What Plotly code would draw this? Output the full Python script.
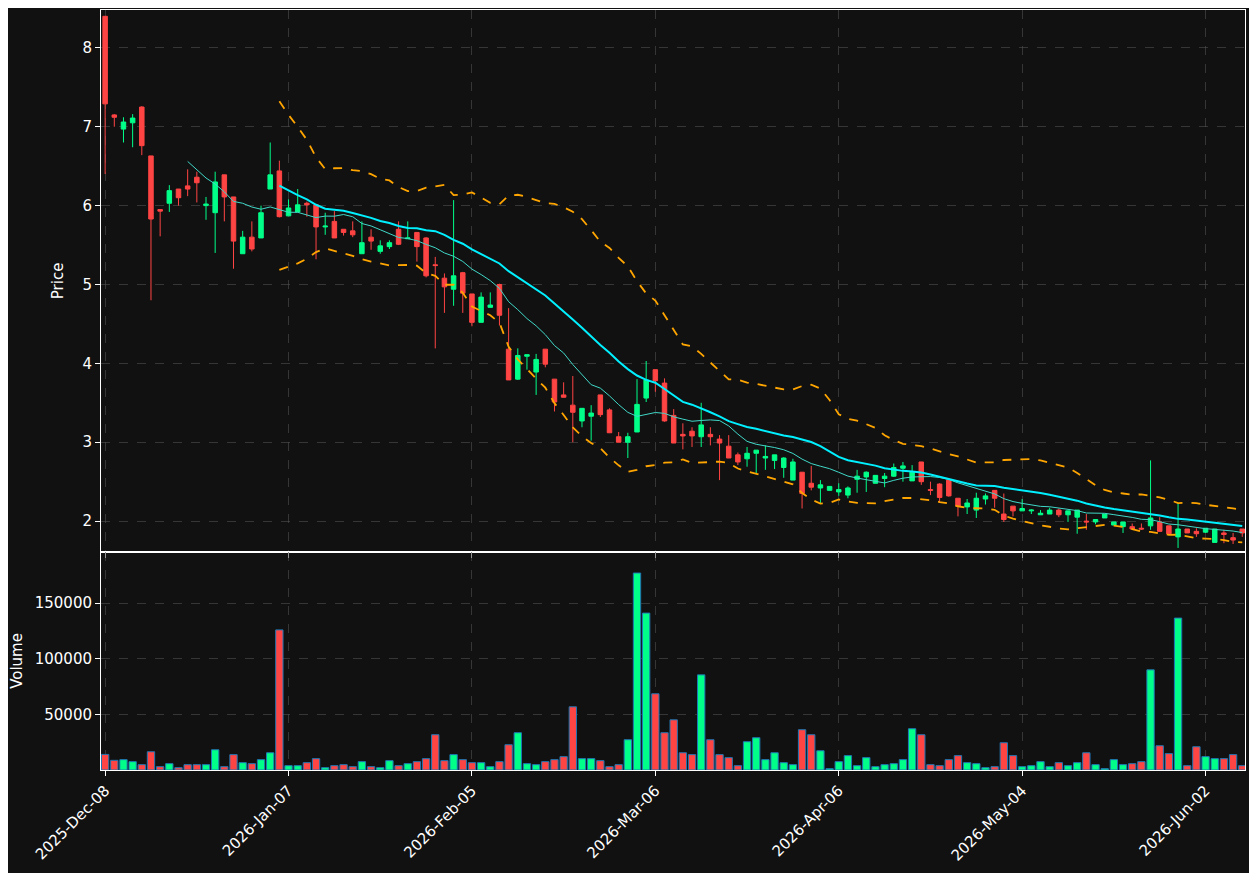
import pandas as pd
import plotly.graph_objects as go
from plotly.subplots import make_subplots

holidays = ["2025-12-25", "2026-01-01", "2026-01-19", "2026-02-16", "2026-04-03", "2026-05-25"]
dates = pd.bdate_range("2025-12-08", "2026-06-08", freq="C", holidays=holidays)

opens = [8.40, 7.15, 6.97, 7.05, 7.25, 6.63, 5.95, 6.03, 6.21, 6.25,
         6.36, 6.00, 5.91, 6.39, 6.11, 5.39, 5.60, 5.59, 6.21, 6.44,
         5.87, 5.92, 6.03, 6.01, 5.73, 5.80, 5.70, 5.68, 5.39, 5.60,
         5.42, 5.48, 5.70, 5.58, 5.66, 5.59, 5.25, 5.08, 4.94, 5.15,
         4.88, 4.52, 4.71, 5.00, 4.18, 3.80, 4.09, 3.89, 4.18, 3.80,
         3.60, 3.47, 3.27, 3.33, 3.60, 3.41, 3.07, 3.00, 3.13, 3.56,
         3.92, 3.75, 3.34, 3.10, 3.14, 3.07, 3.10, 3.04, 2.95, 2.84,
         2.79, 2.86, 2.80, 2.77, 2.68, 2.52, 2.62, 2.48, 2.42, 2.39,
         2.37, 2.33, 2.53, 2.56, 2.48, 2.54, 2.57, 2.67, 2.51, 2.75,
         2.40, 2.47, 2.52, 2.29, 2.18, 2.14, 2.28, 2.39, 2.09, 2.19,
         2.13, 2.13, 2.08, 2.09, 2.14, 2.08, 2.05, 2.00, 1.99, 2.04,
         1.95, 1.93, 1.93, 1.91, 1.94, 1.99, 1.94, 1.80, 1.90, 1.87,
         1.86, 1.73, 1.85, 1.79, 1.90]
highs = [8.40, 7.16, 7.12, 7.16, 7.26, 6.63, 5.95, 6.26, 6.21, 6.46,
         6.43, 6.11, 6.43, 6.39, 6.11, 5.68, 5.80, 6.00, 6.80, 6.57,
         6.08, 6.21, 6.05, 6.01, 5.91, 5.93, 5.70, 5.80, 5.80, 5.70,
         5.56, 5.56, 5.80, 5.80, 5.66, 5.60, 5.35, 5.14, 6.07, 5.16,
         4.88, 4.90, 4.90, 5.01, 4.70, 4.19, 4.11, 4.12, 4.18, 3.80,
         3.76, 3.84, 3.43, 3.47, 3.60, 3.43, 3.13, 3.12, 3.80, 4.03,
         3.92, 3.81, 3.42, 3.24, 3.19, 3.50, 3.19, 3.09, 3.09, 2.87,
         2.94, 2.90, 2.96, 2.84, 2.81, 2.79, 2.62, 2.70, 2.52, 2.44,
         2.48, 2.44, 2.65, 2.63, 2.58, 2.61, 2.73, 2.75, 2.71, 2.75,
         2.50, 2.48, 2.53, 2.29, 2.28, 2.36, 2.35, 2.39, 2.35, 2.19,
         2.28, 2.15, 2.14, 2.17, 2.16, 2.13, 2.14, 2.09, 2.02, 2.09,
         1.99, 1.99, 1.97, 1.97, 2.77, 2.05, 1.94, 2.23, 1.90, 1.91,
         1.91, 1.90, 1.89, 1.85, 1.90]
lows = [6.40, 7.00, 6.80, 6.74, 6.64, 4.80, 5.61, 5.92, 6.00, 6.12,
        6.04, 5.82, 5.40, 5.80, 5.20, 5.39, 5.42, 5.59, 6.21, 5.85,
        5.87, 5.92, 5.86, 5.32, 5.63, 5.59, 5.62, 5.60, 5.39, 5.44,
        5.39, 5.45, 5.50, 5.58, 5.29, 5.09, 4.19, 4.64, 4.73, 4.64,
        4.47, 4.52, 4.71, 4.48, 3.79, 3.79, 3.92, 3.60, 3.95, 3.39,
        3.57, 3.00, 3.19, 3.02, 3.32, 3.12, 3.00, 2.80, 3.13, 3.51,
        3.64, 3.26, 2.99, 2.91, 2.94, 2.94, 2.96, 2.52, 2.80, 2.71,
        2.69, 2.61, 2.65, 2.66, 2.55, 2.52, 2.16, 2.39, 2.23, 2.39,
        2.32, 2.29, 2.36, 2.37, 2.48, 2.43, 2.56, 2.50, 2.51, 2.46,
        2.33, 2.24, 2.31, 2.06, 2.09, 2.04, 2.21, 2.17, 1.99, 2.06,
        2.13, 2.09, 2.08, 2.09, 2.05, 1.99, 1.84, 1.89, 1.96, 2.04,
        1.95, 1.85, 1.90, 1.89, 1.89, 1.87, 1.84, 1.66, 1.85, 1.80,
        1.85, 1.73, 1.72, 1.71, 1.80]
closes = [7.29, 7.12, 7.06, 7.11, 6.76, 5.83, 5.93, 6.19, 6.10, 6.21,
          6.29, 6.02, 6.30, 6.11, 5.55, 5.60, 5.45, 5.91, 6.39, 5.86,
          5.97, 6.01, 6.01, 5.73, 5.74, 5.59, 5.66, 5.63, 5.53, 5.55,
          5.49, 5.53, 5.51, 5.59, 5.48, 5.11, 5.24, 4.97, 5.11, 4.89,
          4.52, 4.84, 4.74, 4.61, 3.79, 4.10, 4.11, 4.05, 3.99, 3.51,
          3.57, 3.38, 3.43, 3.37, 3.35, 3.12, 3.00, 3.07, 3.48, 3.79,
          3.78, 3.27, 2.99, 3.08, 3.08, 3.22, 3.07, 2.99, 2.80, 2.75,
          2.86, 2.90, 2.82, 2.84, 2.80, 2.75, 2.35, 2.43, 2.46, 2.44,
          2.40, 2.42, 2.57, 2.62, 2.58, 2.57, 2.68, 2.70, 2.62, 2.50,
          2.39, 2.30, 2.32, 2.19, 2.23, 2.29, 2.32, 2.29, 2.02, 2.13,
          2.16, 2.14, 2.10, 2.14, 2.08, 2.13, 2.14, 1.99, 2.02, 2.09,
          1.99, 1.99, 1.90, 1.90, 2.04, 1.87, 1.84, 1.90, 1.85, 1.84,
          1.91, 1.90, 1.83, 1.76, 1.85]
volumes = [14000, 8700, 9300, 7500, 4800, 16400, 3000, 5700, 2100, 4800,
           4800, 4800, 18200, 3000, 13800, 6600, 5700, 9300, 15500, 125900,
           3900, 3900, 6600, 10200, 2100, 3900, 4800, 3000, 7500, 3000,
           2100, 8400, 3900, 5700, 7500, 10200, 31700, 8400, 13800, 9300,
           6600, 6600, 3000, 7500, 22700, 33500, 5700, 4800, 7500, 9300,
           12000, 56800, 10200, 10200, 8400, 3000, 4800, 27200, 177000, 141000,
           68500, 33500, 45100, 15500, 13800, 85500, 27200, 13800, 11100, 3900,
           25400, 29000, 9300, 15500, 6600, 4800, 36200, 31700, 17300, 1200,
           7500, 12900, 3900, 11100, 3000, 4800, 5700, 9300, 37100, 31700,
           4800, 3900, 9300, 12900, 6600, 5700, 2100, 3000, 24500, 12900,
           3000, 3900, 7500, 3000, 6600, 3900, 6600, 15500, 4800, 1200,
           9300, 4800, 5700, 7500, 90000, 21800, 14700, 136500, 3900, 20900,
           12000, 10200, 10200, 13800, 3900]

UP = "#00ff88"
DOWN = "#ff4444"
BG = "#111111"

x = list(range(len(dates)))
close_s = pd.Series(closes)
ma10 = close_s.rolling(10).mean()
ma20 = close_s.rolling(20).mean()
std20 = close_s.rolling(20).std(ddof=0)
bb_up = ma20 + 2 * std20
bb_dn = ma20 - 2 * std20
vol_colors = [UP if c >= o else DOWN for o, c in zip(opens, closes)]

fig = make_subplots(rows=2, cols=1, shared_xaxes=True, vertical_spacing=0,
                    row_heights=[0.713, 0.287])

fig.add_trace(go.Candlestick(
    x=x, open=opens, high=highs, low=lows, close=closes,
    increasing=dict(line=dict(color=UP, width=1), fillcolor=UP),
    decreasing=dict(line=dict(color=DOWN, width=1), fillcolor=DOWN),
    whiskerwidth=0, showlegend=False), row=1, col=1)
fig.add_trace(go.Scatter(x=x, y=ma10, mode="lines", line=dict(color="#40d8c8", width=1),
                         showlegend=False), row=1, col=1)
fig.add_trace(go.Scatter(x=x, y=ma20, mode="lines", line=dict(color="#00f0ff", width=2),
                         showlegend=False), row=1, col=1)
for band in (bb_up, bb_dn):
    fig.add_trace(go.Scatter(x=x, y=band, mode="lines",
                             line=dict(color="#ffa500", width=1.8, dash="dash"),
                             showlegend=False), row=1, col=1)

fig.add_trace(go.Bar(x=x, y=volumes, marker=dict(color=vol_colors,
                     line=dict(color="#1f77b4", width=1)), width=0.8,
                     showlegend=False), row=2, col=1)

tickvals = x[::20]
ticktext = [dates[i].strftime("%Y-%b-%d") for i in tickvals]

axis_style = dict(showline=True, linecolor="white", linewidth=1, mirror=True,
                  gridcolor="rgba(80,80,80,0.6)", griddash="dash", gridwidth=1,
                  ticks="outside", tickcolor="white", zeroline=False, automargin=False,
                  tickfont=dict(color="white", size=15))

fig.update_xaxes(**axis_style, range=[-0.45, 124.3], tickvals=tickvals,
                 rangeslider_visible=False)
fig.update_xaxes(ticktext=ticktext, tickangle=-45, row=2, col=1)
fig.update_xaxes(showticklabels=False, row=1, col=1)
fig.update_yaxes(**axis_style)
fig.update_yaxes(range=[1.61, 8.48], tickvals=[2, 3, 4, 5, 6, 7, 8],
                 title=dict(text="Price", font=dict(color="white", size=15)),
                 row=1, col=1)
fig.update_yaxes(range=[0, 196000], tickvals=[50000, 100000, 150000], tickformat="d",
                 title=dict(text="Volume", font=dict(color="white", size=15)),
                 row=2, col=1)

fig.update_layout(
    width=1249, height=865,
    paper_bgcolor=BG, plot_bgcolor=BG,
    font=dict(family="DejaVu Sans", color="white"),
    margin=dict(l=93, r=12, t=2, b=103),
    bargap=0.1,
)

fig.write_html("out.html")
